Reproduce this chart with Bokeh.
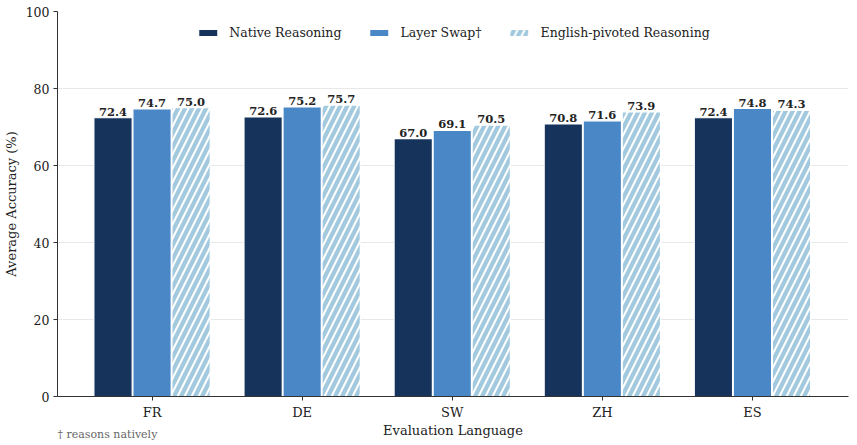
from bokeh.plotting import figure
from bokeh.models import ColumnDataSource, Legend, LegendItem, Title, FixedTicker
from bokeh.core.properties import value
from bokeh.embed import file_html
from bokeh.resources import INLINE

languages = ["FR", "DE", "SW", "ZH", "ES"]
native = [72.4, 72.6, 67.0, 70.8, 72.4]
layer_swap = [74.7, 75.2, 69.1, 71.6, 74.8]
english_pivot = [75.0, 75.7, 70.5, 73.9, 74.3]
series_names = ["Native Reasoning", "Layer Swap\u2020", "English-pivoted Reasoning"]
y_ticks = [0, 20, 40, 60, 80, 100]

FONT = "DejaVu Serif"
colors = ["#15335b", "#4a87c6", "#a3c9de"]

p = figure(width=857, height=445, output_backend="svg", toolbar_location=None,
           x_range=(-0.63, 4.64), y_range=(0, 100),
           min_border_left=55, min_border_right=9, min_border_top=11, min_border_bottom=49)
p.outline_line_color = None
p.background_fill_color = "white"

xs = list(range(len(languages)))
offsets = [-0.26, 0.0, 0.26]
bw = 0.255
renderers = []
for i, (vals, col) in enumerate(zip([native, layer_swap, english_pivot], colors)):
    src = ColumnDataSource(dict(x=[x + offsets[i] for x in xs], top=vals,
                                lab=[f"{v:.1f}" for v in vals]))
    kw = {}
    if i == 2:
        kw = dict(hatch_pattern="/", hatch_color="white", hatch_alpha=1.0,
                  hatch_scale=14, hatch_weight=2)
    r = p.vbar(x="x", top="top", bottom=0, width=bw, source=src, fill_color=col,
               line_color="white", line_width=1.2, **kw)
    renderers.append(r)
    p.text(x="x", y="top", text="lab", source=src, text_align="center",
           text_baseline="bottom", y_offset=-2, text_font=value(FONT),
           text_font_size="11.5px", text_font_style="bold", text_color="#222222")

legend = Legend(items=[LegendItem(label=n, renderers=[r]) for n, r in zip(series_names, renderers)],
                location="top_center", orientation="horizontal",
                border_line_alpha=0, background_fill_alpha=0,
                label_text_font=FONT, label_text_font_size="12.5px", label_text_color="#222222",
                glyph_width=24, glyph_height=9, spacing=25, label_standoff=10,
                margin=14, padding=0)
p.add_layout(legend, "center")

p.xaxis.ticker = FixedTicker(ticks=xs)
p.xaxis.major_label_overrides = {i: l for i, l in enumerate(languages)}
p.yaxis.ticker = FixedTicker(ticks=y_ticks)
for ax in (p.xaxis, p.yaxis):
    ax.major_label_text_font = FONT
    ax.major_label_text_color = "#222222"
    ax.axis_label_text_font = FONT
    ax.axis_label_text_font_size = "13px"
    ax.axis_label_text_font_style = "normal"
    ax.axis_label_text_color = "#222222"
    ax.axis_line_color = "#333333"
    ax.major_tick_line_color = "#333333"
    ax.minor_tick_line_color = None
    ax.major_tick_out = 4
    ax.major_tick_in = 0
    ax.major_label_standoff = 4
p.xaxis.major_label_text_font_size = "13px"
p.yaxis.major_label_text_font_size = "12.5px"
p.xaxis.axis_label = "Evaluation Language"
p.yaxis.axis_label = "Average Accuracy (%)"
p.xaxis.axis_label_standoff = 0
p.yaxis.axis_label_standoff = 4
p.xgrid.grid_line_color = None
p.ygrid.ticker = FixedTicker(ticks=y_ticks)
p.ygrid.grid_line_color = "#e8e8e8"
p.ygrid.grid_line_width = 1

note = Title(text="\u2020 reasons natively", align="left", vertical_align="top",
             text_font=FONT, text_font_size="11px", text_color="#666666",
             text_font_style="normal", standoff=-26, offset=0)
p.add_layout(note, "below")

open("out.html", "w").write(file_html(p, INLINE))
